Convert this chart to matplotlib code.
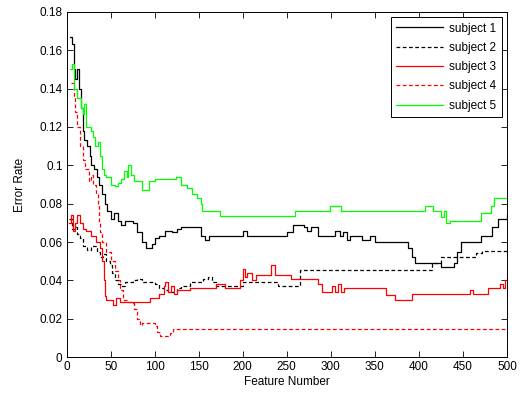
import numpy as np
import matplotlib
matplotlib.use("Agg")
import matplotlib.pyplot as plt

plt.rcParams['font.family'] = ['Liberation Sans', 'DejaVu Sans']

# puntos de cambio (número de característica, tasa de error) de cada curva escalonada
s1_x = [4, 6, 8, 10, 12, 14, 16, 18, 20, 23, 26, 28, 31, 34, 37, 40, 43, 46, 50, 54, 58, 62, 66,
        75, 80, 85, 90, 97, 100, 105, 112, 120, 125, 130, 150, 153, 157, 162, 195, 200, 205, 210,
        230, 250, 257, 270, 273, 277, 285, 300, 305, 310, 314, 318, 322, 330, 335, 345, 350, 385,
        388, 392, 396, 420, 425, 440, 443, 448, 470, 475, 483, 490, 500]
s1_y = [0.167, 0.163, 0.150, 0.145, 0.150, 0.140, 0.130, 0.118, 0.113, 0.110, 0.105, 0.100, 0.098,
        0.094, 0.090, 0.085, 0.080, 0.076, 0.072, 0.075, 0.071, 0.069, 0.071, 0.070, 0.065, 0.060,
        0.057, 0.059, 0.062, 0.063, 0.066, 0.065, 0.067, 0.068, 0.068, 0.063, 0.061, 0.063, 0.063,
        0.066, 0.063, 0.063, 0.063, 0.065, 0.069, 0.068, 0.066, 0.068, 0.063, 0.063, 0.066, 0.063,
        0.065, 0.061, 0.063, 0.063, 0.061, 0.063, 0.060, 0.060, 0.057, 0.052, 0.049, 0.049, 0.047,
        0.049, 0.055, 0.060, 0.063, 0.063, 0.068, 0.072, 0.074]

s2_x = [3, 6, 9, 12, 15, 19, 23, 28, 34, 38, 41, 45, 49, 52, 55, 58, 62, 66, 70, 75, 80, 85, 90,
        100, 105, 110, 115, 125, 130, 140, 150, 155, 160, 165, 170, 195, 200, 235, 240, 262, 265,
        410, 415, 425, 460, 465, 472, 500]
s2_y = [0.072, 0.067, 0.068, 0.064, 0.062, 0.058, 0.056, 0.058, 0.055, 0.052, 0.054, 0.050, 0.048,
        0.044, 0.040, 0.038, 0.037, 0.039, 0.039, 0.040, 0.041, 0.039, 0.039, 0.038, 0.036, 0.035,
        0.034, 0.036, 0.037, 0.039, 0.039, 0.041, 0.042, 0.039, 0.037, 0.037, 0.039, 0.039, 0.037,
        0.037, 0.0456, 0.0456, 0.049, 0.0524, 0.0524, 0.0545, 0.0555, 0.0555]

s3_x = [3, 5, 7, 9, 12, 15, 18, 22, 28, 33, 38, 40, 42, 43, 45, 50, 53, 56, 60, 95, 105, 110, 112,
        115, 118, 122, 125, 140, 170, 180, 197, 200, 203, 205, 210, 215, 232, 237, 255, 285, 290,
        298, 301, 305, 308, 311, 315, 363, 373, 392, 455, 458, 461, 478, 492, 495, 498, 500]
s3_y = [0.070, 0.074, 0.066, 0.070, 0.074, 0.070, 0.067, 0.066, 0.063, 0.060, 0.057, 0.050, 0.040,
        0.032, 0.030, 0.030, 0.027, 0.031, 0.029, 0.031, 0.033, 0.037, 0.039, 0.034, 0.037, 0.033,
        0.035, 0.036, 0.038, 0.036, 0.040, 0.046, 0.042, 0.044, 0.040, 0.043, 0.048, 0.043, 0.041,
        0.038, 0.034, 0.034, 0.037, 0.034, 0.038, 0.034, 0.036, 0.0325, 0.0296, 0.033, 0.033,
        0.035, 0.033, 0.036, 0.038, 0.036, 0.040, 0.040]

s4_x = [5, 8, 10, 12, 15, 18, 21, 25, 28, 30, 33, 35, 37, 38, 40, 45, 50, 55, 58, 61, 64, 70, 75,
        77, 80, 83, 86, 95, 100, 103, 106, 117, 121, 500]
s4_y = [0.143, 0.135, 0.128, 0.120, 0.110, 0.103, 0.098, 0.092, 0.095, 0.090, 0.085, 0.080, 0.070,
        0.065, 0.060, 0.055, 0.050, 0.045, 0.040, 0.035, 0.030, 0.029, 0.028, 0.025, 0.020, 0.017,
        0.018, 0.018, 0.016, 0.013, 0.0113, 0.0125, 0.0145, 0.0145]

s5_x = [4, 6, 8, 12, 16, 18, 20, 22, 25, 28, 30, 32, 35, 38, 40, 42, 45, 50, 55, 58, 62, 65, 68,
        70, 73, 76, 86, 93, 100, 121, 124, 130, 137, 142, 148, 152, 154, 174, 259, 299, 312, 407,
        416, 425, 428, 431, 435, 462, 470, 482, 485, 500]
s5_y = [0.150, 0.153, 0.140, 0.135, 0.130, 0.127, 0.132, 0.120, 0.120, 0.118, 0.115, 0.110, 0.112,
        0.105, 0.098, 0.095, 0.094, 0.090, 0.089, 0.091, 0.093, 0.097, 0.094, 0.100, 0.095, 0.092,
        0.087, 0.092, 0.093, 0.093, 0.094, 0.090, 0.088, 0.085, 0.083, 0.080, 0.076, 0.0734, 0.076,
        0.0786, 0.076, 0.0786, 0.076, 0.073, 0.076, 0.070, 0.071, 0.071, 0.075, 0.0786, 0.083, 0.083]

series = [
    ("subject 1", s1_x, s1_y, "black", "-"),
    ("subject 2", s2_x, s2_y, "black", "--"),
    ("subject 3", s3_x, s3_y, "#ff0000", "-"),
    ("subject 4", s4_x, s4_y, "#ff0000", "--"),
    ("subject 5", s5_x, s5_y, "#00ff00", "-"),
]

fig = plt.figure(figsize=(5.21, 3.96), dpi=100)
ax = fig.add_axes([0.128, 0.098, 0.845, 0.872])

for nombre, xs, ys, color, estilo in series:
    ax.plot(xs, ys, drawstyle="steps-post", color=color, linestyle=estilo,
            linewidth=0.9, label=nombre, dashes=(3, 2) if estilo == "--" else (None, None))

ax.set_xlim(0, 500)
ax.set_ylim(0, 0.18)
ax.set_xticks(np.arange(0, 501, 50))
ax.set_yticks(np.arange(0, 0.181, 0.02))
ax.set_yticklabels(["0", "0.02", "0.04", "0.06", "0.08", "0.1", "0.12", "0.14", "0.16", "0.18"])
ax.tick_params(direction="in", top=True, right=True, labelsize=8.5, length=4, width=0.6, pad=3)
for lado in ax.spines.values():
    lado.set_linewidth(0.7)
ax.set_xlabel("Feature Number", fontsize=8.5, labelpad=2)
ax.set_ylabel("Error Rate", fontsize=8.5, labelpad=10)

leg = ax.legend(loc="upper right", fontsize=8.5, handlelength=4, fancybox=False,
                framealpha=1, edgecolor="black", borderaxespad=0.45, labelspacing=0.62,
                handletextpad=0.5, borderpad=0.45)
leg.get_frame().set_linewidth(0.7)

fig.savefig("out.png", dpi=100)
